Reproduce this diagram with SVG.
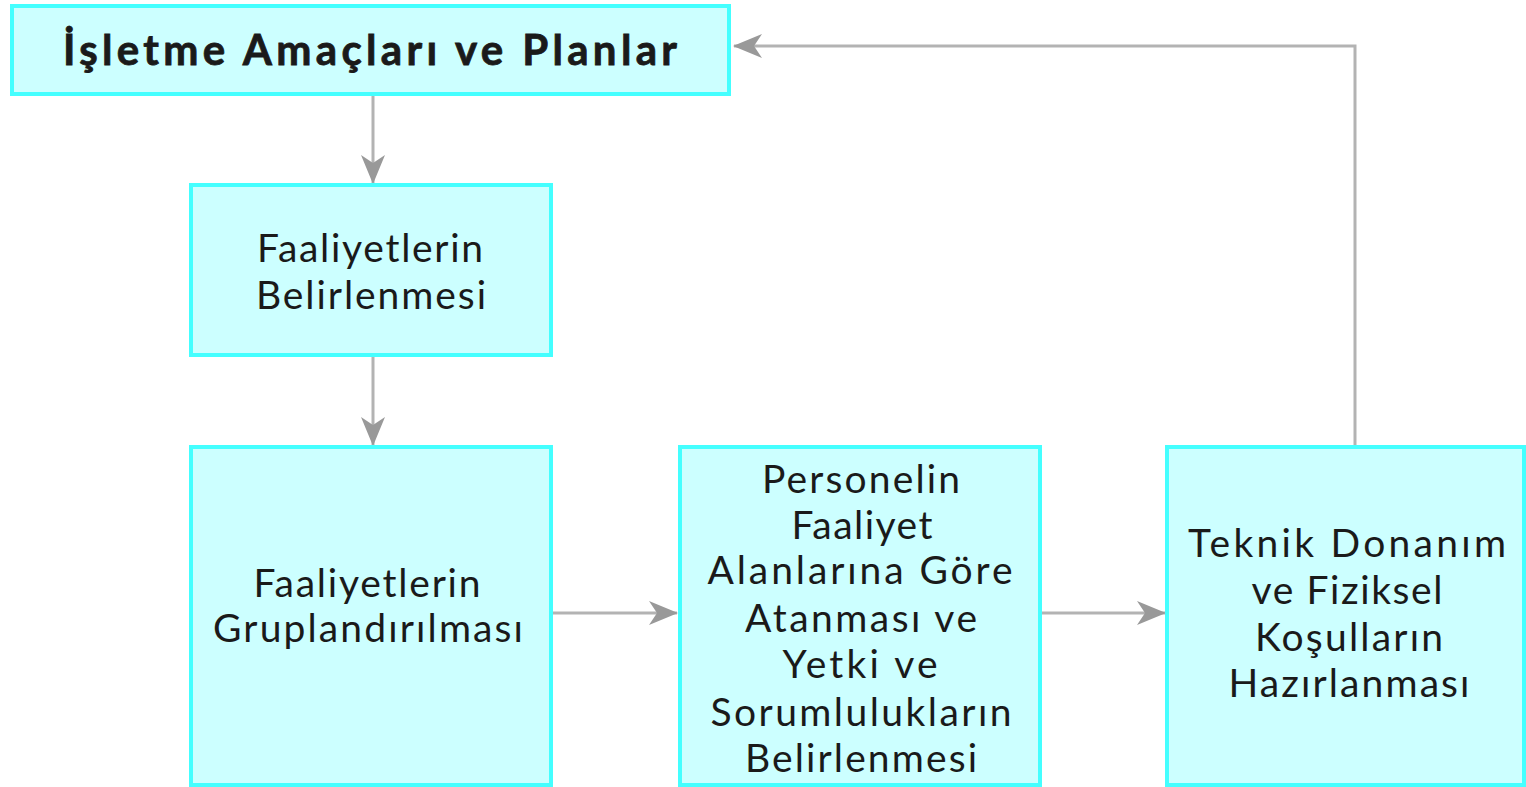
<svg xmlns="http://www.w3.org/2000/svg" width="1526" height="787" viewBox="0 0 1526 787">
<style>
.box{fill:#ccffff;stroke:#44ffff;stroke-width:4}
.t{font-family:Lato,"Open Sans","DejaVu Sans",sans-serif;font-size:39px;fill:#1a1a1a;text-anchor:middle}
.b{font-weight:bold;font-size:42px;stroke:#1a1a1a;stroke-width:0.8}
.c{fill:none;stroke:#b3b3b3;stroke-width:3}
</style>
<defs>
<marker id="ah" viewBox="0 0 30 26" refX="28" refY="13" markerWidth="30" markerHeight="26" markerUnits="userSpaceOnUse" orient="auto">
<path d="M0,1 L29,13 L0,25 L8,13 Z" fill="#999999"/>
</marker>
</defs>
<rect width="1526" height="787" fill="#ffffff"/>
<g id="connectors">
<line class="c" x1="373" y1="95" x2="373" y2="183" marker-end="url(#ah)"/>
<line class="c" x1="373" y1="356" x2="373" y2="445" marker-end="url(#ah)"/>
<line class="c" x1="553" y1="613" x2="677" y2="613" marker-end="url(#ah)"/>
<line class="c" x1="1041" y1="613" x2="1165" y2="613" marker-end="url(#ah)"/>
<polyline class="c" points="1355,446 1355,46 734,46" marker-end="url(#ah)"/>
</g>
<g id="n1">
<rect class="box" x="12" y="6" width="717" height="88"/>
<text class="t b" x="370" y="65" textLength="614" lengthAdjust="spacing">İşletme Amaçları ve Planlar</text>
</g>
<g id="n2">
<rect class="box" x="191" y="185" width="360" height="170"/>
<text class="t" x="370" y="262" textLength="226" lengthAdjust="spacing">Faaliyetlerin</text>
<text class="t" x="371" y="309" textLength="230" lengthAdjust="spacing">Belirlenmesi</text>
</g>
<g id="n3">
<rect class="box" x="191" y="447" width="360" height="338"/>
<text class="t" x="367" y="597" textLength="227" lengthAdjust="spacing">Faaliyetlerin</text>
<text class="t" x="368" y="642" textLength="310" lengthAdjust="spacing">Gruplandırılması</text>
</g>
<g id="n4">
<rect class="box" x="680" y="447" width="360" height="338"/>
<text class="t" x="861" y="493" textLength="198" lengthAdjust="spacing">Personelin</text>
<text class="t" x="862" y="539" textLength="141" lengthAdjust="spacing">Faaliyet</text>
<text class="t" x="860" y="584" textLength="305" lengthAdjust="spacing">Alanlarına Göre</text>
<text class="t" x="861" y="632" textLength="232" lengthAdjust="spacing">Atanması ve</text>
<text class="t" x="860" y="678" textLength="155" lengthAdjust="spacing">Yetki ve</text>
<text class="t" x="861" y="726" textLength="301" lengthAdjust="spacing">Sorumlulukların</text>
<text class="t" x="861" y="772" textLength="232" lengthAdjust="spacing">Belirlenmesi</text>
</g>
<g id="n5">
<rect class="box" x="1167" y="447" width="357" height="338"/>
<text class="t" x="1347" y="557" textLength="318" lengthAdjust="spacing">Teknik Donanım</text>
<text class="t" x="1347" y="604" textLength="191" lengthAdjust="spacing">ve Fiziksel</text>
<text class="t" x="1349" y="651" textLength="188" lengthAdjust="spacing">Koşulların</text>
<text class="t" x="1349" y="697" textLength="241" lengthAdjust="spacing">Hazırlanması</text>
</g>
</svg>
